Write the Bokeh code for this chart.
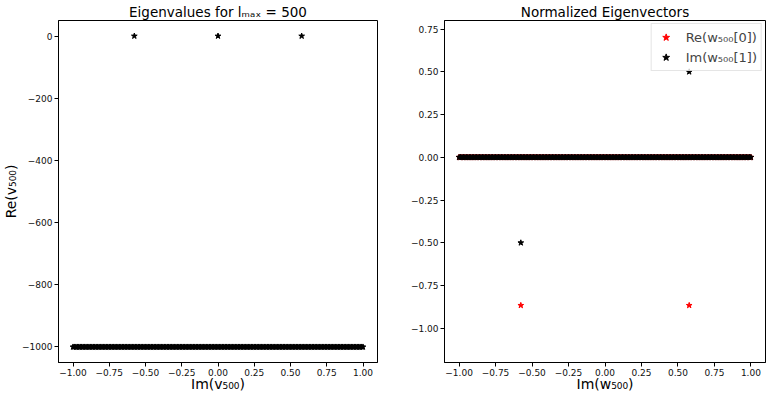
from bokeh.plotting import figure
from bokeh.layouts import row
from bokeh.models import FixedTicker, Legend, LegendItem, Range1d
from bokeh.embed import file_html
from bokeh.resources import INLINE

# ---------------- data ----------------
# dense band of eigenvalues (imaginary parts)
im_dense = [
    -1.00, -0.99, -0.98, -0.97, -0.96, -0.95, -0.94, -0.93, -0.92, -0.91,
    -0.90, -0.89, -0.88, -0.87, -0.86, -0.85, -0.84, -0.83, -0.82, -0.81,
    -0.80, -0.79, -0.78, -0.77, -0.76, -0.75, -0.74, -0.73, -0.72, -0.71,
    -0.70, -0.69, -0.68, -0.67, -0.66, -0.65, -0.64, -0.63, -0.62, -0.61,
    -0.60, -0.59, -0.58, -0.57, -0.56, -0.55, -0.54, -0.53, -0.52, -0.51,
    -0.50, -0.49, -0.48, -0.47, -0.46, -0.45, -0.44, -0.43, -0.42, -0.41,
    -0.40, -0.39, -0.38, -0.37, -0.36, -0.35, -0.34, -0.33, -0.32, -0.31,
    -0.30, -0.29, -0.28, -0.27, -0.26, -0.25, -0.24, -0.23, -0.22, -0.21,
    -0.20, -0.19, -0.18, -0.17, -0.16, -0.15, -0.14, -0.13, -0.12, -0.11,
    -0.10, -0.09, -0.08, -0.07, -0.06, -0.05, -0.04, -0.03, -0.02, -0.01,
    0.00, 0.01, 0.02, 0.03, 0.04, 0.05, 0.06, 0.07, 0.08, 0.09,
    0.10, 0.11, 0.12, 0.13, 0.14, 0.15, 0.16, 0.17, 0.18, 0.19,
    0.20, 0.21, 0.22, 0.23, 0.24, 0.25, 0.26, 0.27, 0.28, 0.29,
    0.30, 0.31, 0.32, 0.33, 0.34, 0.35, 0.36, 0.37, 0.38, 0.39,
    0.40, 0.41, 0.42, 0.43, 0.44, 0.45, 0.46, 0.47, 0.48, 0.49,
    0.50, 0.51, 0.52, 0.53, 0.54, 0.55, 0.56, 0.57, 0.58, 0.59,
    0.60, 0.61, 0.62, 0.63, 0.64, 0.65, 0.66, 0.67, 0.68, 0.69,
    0.70, 0.71, 0.72, 0.73, 0.74, 0.75, 0.76, 0.77, 0.78, 0.79,
    0.80, 0.81, 0.82, 0.83, 0.84, 0.85, 0.86, 0.87, 0.88, 0.89,
    0.90, 0.91, 0.92, 0.93, 0.94, 0.95, 0.96, 0.97, 0.98, 0.99, 1.00,
]
re_dense = [-1000.0] * len(im_dense)

# isolated eigenvalues
im_iso = [-0.577, 0.0, 0.577]
re_iso = [0.0, 0.0, 0.0]

# eigenvector components
vec_dense_x = im_dense
vec_dense_y = [0.0] * len(im_dense)
re_w0_x = [-0.577, 0.577]
re_w0_y = [-0.866, -0.866]
im_w1_x = [-0.577, 0.577]
im_w1_y = [-0.5, 0.5]

# ticks
x_ticks = [-1.0, -0.75, -0.5, -0.25, 0.0, 0.25, 0.5, 0.75, 1.0]
x_tick_labels = ["\u22121.00", "\u22120.75", "\u22120.50", "\u22120.25", "0.00",
                 "0.25", "0.50", "0.75", "1.00"]
y1_ticks = [0, -200, -400, -600, -800, -1000]
y1_tick_labels = ["0", "\u2212200", "\u2212400", "\u2212600", "\u2212800", "\u22121000"]
y2_ticks = [0.75, 0.5, 0.25, 0.0, -0.25, -0.5, -0.75, -1.0]
y2_tick_labels = ["0.75", "0.50", "0.25", "0.00", "\u22120.25", "\u22120.50",
                  "\u22120.75", "\u22121.00"]

FONT = "DejaVu Sans"
MSIZE = 6


def style(p, xt, xl, yt, yl, xlabel, ylabel):
    p.title.text_font = FONT
    p.title.text_font_size = "13.5px"
    p.title.text_font_style = "normal"
    p.title.text_color = "black"
    p.title.align = "center"
    p.title.standoff = 2
    p.xgrid.visible = False
    p.ygrid.visible = False
    p.outline_line_color = "black"
    p.outline_line_width = 1
    for ax, t, l in ((p.xaxis[0], xt, xl), (p.yaxis[0], yt, yl)):
        ax.ticker = FixedTicker(ticks=t)
        ax.major_label_overrides = {k: v for k, v in zip(t, l)}
        ax.major_label_text_font = FONT
        ax.major_label_text_font_size = "9px"
        ax.major_label_text_color = "#111111"
        ax.major_tick_out = 4
        ax.major_tick_in = 0
        ax.minor_tick_out = 0
        ax.minor_tick_in = 0
        ax.axis_line_color = "black"
        ax.major_tick_line_color = "black"
        ax.major_label_standoff = 2
        ax.axis_label_text_font = FONT
        ax.axis_label_text_font_size = "14px"
        ax.axis_label_text_font_style = "normal"
        ax.axis_label_text_color = "black"
        ax.axis_label_standoff = 0
    p.xaxis.axis_label_standoff = -3
    p.xaxis.axis_label = xlabel
    if ylabel:
        p.yaxis.axis_label = ylabel


TOP = 17
BOTTOM = 20

p1 = figure(width=387, height=394, output_backend="svg", toolbar_location=None,
            x_range=Range1d(-1.1, 1.1), y_range=Range1d(-1050, 50),
            min_border_left=55, min_border_right=10, min_border_top=TOP,
            min_border_bottom=BOTTOM,
            title="Eigenvalues for l\u2098\u2090\u2093 = 500")
style(p1, x_ticks, x_tick_labels, y1_ticks, y1_tick_labels,
      "Im(v\u2085\u2080\u2080)", "Re(v\u2085\u2080\u2080)")
p1.scatter(im_dense, re_dense, marker="star", size=MSIZE, color="black")
p1.scatter(im_iso, re_iso, marker="star", size=MSIZE, color="black")

p2 = figure(width=379, height=394, output_backend="svg", toolbar_location=None,
            x_range=Range1d(-1.1, 1.1), y_range=Range1d(-1.2, 0.8),
            min_border_left=57, min_border_right=1, min_border_top=TOP,
            min_border_bottom=BOTTOM,
            title="Normalized Eigenvectors")
style(p2, x_ticks, x_tick_labels, y2_ticks, y2_tick_labels,
      "Im(w\u2085\u2080\u2080)", "")
red = p2.scatter(re_w0_x + vec_dense_x, re_w0_y + vec_dense_y,
                 marker="star", size=MSIZE, color="red")
blk = p2.scatter(im_w1_x + vec_dense_x, im_w1_y + vec_dense_y,
                 marker="star", size=MSIZE, color="black")

legend = Legend(items=[
    LegendItem(label="Re(w\u2085\u2080\u2080[0])", renderers=[red]),
    LegendItem(label="Im(w\u2085\u2080\u2080[1])", renderers=[blk]),
], location="top_right")
legend.label_text_font = FONT
legend.label_text_font_size = "13px"
legend.label_height = 18
legend.glyph_height = 18
legend.glyph_width = 20
legend.spacing = 2
legend.padding = 4
legend.margin = 3
legend.label_standoff = 10
legend.border_line_color = "#cccccc"
legend.background_fill_alpha = 0.8
p2.add_layout(legend)

layout = row(p1, p2)
open("out.html", "w").write(file_html(layout, INLINE))
